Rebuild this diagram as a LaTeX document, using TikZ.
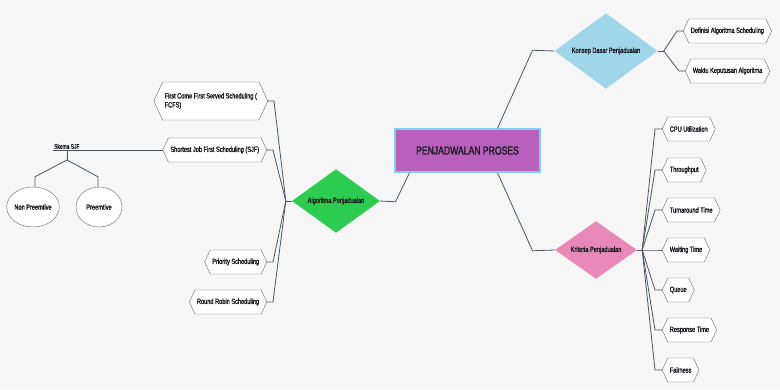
\documentclass[tikz,border=0pt]{standalone}
\usepackage{fontspec}
\newfontfamily\mapfont{Liberation Sans}[FakeStretch=0.75, FakeBold=1.6]
\usetikzlibrary{shapes.geometric, shapes.symbols}
\definecolor{kanvas}{RGB}{246,246,246}
\definecolor{ungu}{RGB}{185,95,190}
\definecolor{tepiungu}{RGB}{125,205,245}
\definecolor{biru}{RGB}{160,214,234}
\definecolor{merahmuda}{RGB}{232,137,186}
\definecolor{hijau}{RGB}{44,204,80}
\definecolor{garis}{RGB}{75,85,100}
\definecolor{tepi}{RGB}{105,105,105}
\definecolor{teks}{RGB}{25,25,30}

\begin{document}
\begin{tikzpicture}[x=1pt,y=-1pt,
  hexa/.style={draw=tepi, fill=white, text=teks, shape=signal, signal to=west and east,
    signal pointer angle=130, minimum height=24pt, inner xsep=2pt,
    font=\mapfont\fontsize{7.5}{9}\selectfont},
  wajik/.style={shape=diamond, inner sep=0pt, text=teks, font=\mapfont\fontsize{7.5}{9}\selectfont},
  bulat/.style={draw=tepi, fill=white, text=teks, ellipse, inner sep=0pt, minimum height=40pt,
    font=\mapfont\fontsize{7.5}{9}\selectfont},
  link/.style={draw=garis, line width=0.8pt}]

\fill[kanvas] (0,0) rectangle (780,389);
\useasboundingbox (0,0) rectangle (780,389);

% pusat
\node[draw=tepiungu, line width=1.5pt, fill=ungu, text=teks, minimum width=145pt, minimum height=43pt,
  font=\mapfont\fontsize{11.5}{13}\selectfont] (main) at (467.5,150.5) {PENJADWALAN PROSES};

% cabang
\node[wajik, fill=biru, minimum width=103pt, minimum height=57pt] (konsep) at (606,51) {Konsep Dasar Penjadualan};
\node[wajik, fill=merahmuda, minimum width=82pt, minimum height=50pt] (kriteria) at (596,250) {Kriteria Penjadualan};
\node[wajik, fill=hijau, minimum width=88pt, minimum height=52pt] (algo) at (336,201) {Algoritma Penjadualan};

\draw[link] ([xshift=30pt]main.north) -- ++(35,-78) -- (konsep.west);
\draw[link] ([xshift=30pt]main.south) -- ++(35,78) -- (kriteria.west);
\draw[link] ([xshift=-58pt]main.south) -- ++(-14,29) -- (algo.east);

% konsep
\node[hexa, anchor=west] (definisi) at (683,31) {Definisi Algoritma Scheduling};
\node[hexa, anchor=west] (waktu) at (685,71) {Waktu Keputusan Algoritma};

\draw[link] (konsep.east) -- ++(6,0) coordinate (kh);
\foreach \n in {definisi,waktu}
  \draw[link] (kh) -- ([xshift=-6pt]\n.west) -- (\n.west);

% kriteria
\node[hexa, anchor=west] (cpu) at (662,129) {CPU Utilization};
\node[hexa, anchor=west] (through) at (662,170) {Throughput};
\node[hexa, anchor=west] (turn) at (662,210) {Turnaround Time};
\node[hexa, anchor=west] (wait) at (662,250) {Waiting Time};
\node[hexa, anchor=west] (queue) at (662,290) {Queue};
\node[hexa, anchor=west] (resp) at (662,330) {Response Time};
\node[hexa, anchor=west] (fair) at (662,370) {Fairness};

\draw[link] (kriteria.east) -- ++(5,0) coordinate (kr);
\foreach \n in {cpu,through,turn,wait,queue,resp,fair}
  \draw[link] (kr) -- ([xshift=-7pt]\n.west) -- (\n.west);

% algoritma
\node[hexa, anchor=east, align=left, minimum height=38pt] (fcfs) at (268,101)
  {First Come First Served Scheduling (\\FCFS)};
\node[hexa, anchor=east] (sjf) at (267,150) {Shortest Job First Scheduling (SJF)};
\node[hexa, anchor=east] (prio) at (267,262) {Priority Scheduling};
\node[hexa, anchor=east] (rr) at (267,302) {Round Robin Scheduling};

\draw[link] (algo.west) -- ++(-6,0) coordinate (al);
\foreach \n in {fcfs,sjf,prio,rr}
  \draw[link] (al) -- ([xshift=6pt]\n.east) -- (\n.east);

% skema SJF
\coordinate (skema) at (53,150);
\node[anchor=south west, inner sep=1pt, text=teks, font=\mapfont\fontsize{6.5}{8}\selectfont] (skemalabel) at (skema) {Skema SJF};
\node[bulat, minimum width=51pt] (nonpre) at (33,207) {Non Preemtive};
\node[bulat, minimum width=46pt] (pre) at (99,207) {Preemtive};

\draw[link] (sjf.west) -- (skema);
\draw[link] ([xshift=14pt]skema) -- ++(0,10) coordinate (sb);
\draw[link] (sb) -- ([xshift=2pt,yshift=10pt]nonpre.north) -- ([xshift=2pt]nonpre.north);
\draw[link] (sb) -- ([xshift=-1pt,yshift=10pt]pre.north) -- ([xshift=-1pt]pre.north);

\end{tikzpicture}
\end{document}
